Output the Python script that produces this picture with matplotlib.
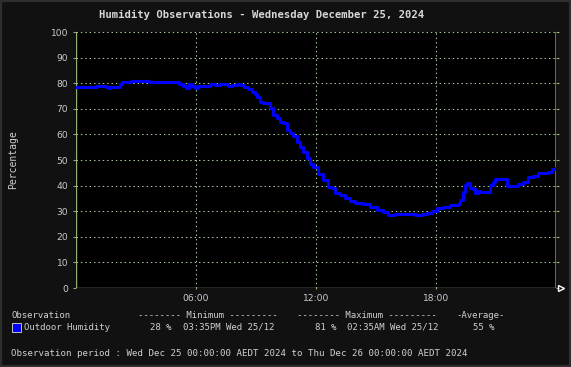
import matplotlib
matplotlib.use('Agg')
import matplotlib.pyplot as plt
from matplotlib.patches import Rectangle

# humidity readings (hour of day, %)
hours = [0.0, 0.7, 1.0, 1.35, 1.5, 1.6, 1.7, 2.1, 2.2, 2.3, 2.75, 3.2, 3.65, 3.85,
         5.0, 5.15, 5.35, 5.5, 5.65, 5.8, 5.95, 6.1, 6.45, 6.7, 6.95, 7.2, 7.6,
         7.8, 8.05, 8.2, 8.4, 8.6, 8.8, 8.95, 9.05, 9.2, 9.35, 9.55, 9.7, 9.85,
         10.05, 10.2, 10.35, 10.55, 10.7, 10.85, 11.05, 11.2, 11.35, 11.55, 11.7,
         11.85, 12.1, 12.35, 12.6, 12.8, 12.95, 13.2, 13.45, 13.7, 13.95, 14.35,
         14.7, 15.05, 15.35, 15.6, 15.95, 16.45, 16.95, 17.3, 17.55, 17.8, 18.05,
         18.35, 18.7, 19.1, 19.2, 19.35, 19.45, 19.55, 19.7, 19.85, 19.95, 20.1,
         20.2, 20.6, 20.7, 20.85, 20.95, 21.35, 21.55, 21.85, 22.1, 22.35, 22.6,
         22.85, 23.1, 23.6, 23.8, 24.0]
humidity = [78.6, 78.6, 79.0, 79.0, 78.6, 78.2, 78.6, 78.6, 79.5, 80.3, 81.0, 81.0, 80.6, 80.3,
            80.3, 79.6, 79.0, 78.3, 79.5, 79.0, 78.0, 79.0, 79.0, 79.6, 79.3, 79.6, 78.8,
            79.3, 79.6, 79.3, 78.6, 77.7, 76.7, 75.8, 74.7, 72.8, 72.1, 72.1, 70.3, 67.6,
            66.5, 65.0, 64.4, 61.7, 60.5, 59.5, 57.1, 55.2, 53.2, 50.6, 48.5,
            47.4, 44.5, 42.2, 39.6, 38.9, 37.0, 36.3, 35.0, 34.1, 33.1, 32.7,
            31.8, 30.5, 29.8, 28.4, 28.9, 28.9, 28.6, 28.9, 29.4, 30.2, 31.1,
            31.8, 32.4, 32.7, 34.4, 37.6, 40.2, 40.9, 38.9, 38.5, 37.0, 38.0,
            37.4, 37.4, 40.2, 41.5, 42.6, 42.6, 39.8, 39.8, 40.6, 41.5, 43.2,
            43.75, 45.0, 45.4, 46.3, 46.7]

xticks = [6, 12, 18]
xlabels = ['06:00', '12:00', '18:00']
yticks = list(range(0, 101, 10))

W, H = 571, 367
fig = plt.figure(figsize=(W / 100, H / 100), dpi=100, facecolor='#111111')
fig.patches.append(Rectangle((0, 0), 1, 1, transform=fig.transFigure, fill=False,
                             edgecolor='#2e2e2e', lw=3))

# plot area in pixels: x 76..556, y 32..288
ax = fig.add_axes([76 / W, 1 - 288 / H, 480 / W, 256 / H])
ax.set_facecolor('black')
ax.set_xlim(0, 24)
ax.set_ylim(0, 100)

grid_col = '#a8c8a0'
dots = (0, (1.4, 2.8))
for y in yticks[1:]:
    ax.axhline(y, color=grid_col, lw=0.75, ls=dots, zorder=1)
for x in xticks:
    ax.axvline(x, color=grid_col, lw=0.75, ls=dots, zorder=1)

ax.step(hours, humidity, where='post', color='#0000ff', lw=2.2, zorder=3)

for s in ax.spines.values():
    s.set_visible(False)
ax.axvline(0, color='#90b070', lw=1, zorder=2)
ax.axvline(24, color='#858530', lw=1.2, zorder=2)
ax.axhline(0, color='#b0c8b0', lw=1, zorder=2)
ax.plot([24.25], [0], marker='>', ms=5, mfc='none', mec='white', mew=1,
        clip_on=False, zorder=4)

ax.set_yticks(yticks)
ax.set_xticks(xticks)
ax.set_xticklabels(xlabels)
ax.tick_params(axis='y', left=True, right=True, length=2.5, width=0.8, color='#90b070',
               labelsize=6.6, labelcolor='#cccccc', pad=3)
ax.tick_params(axis='x', length=2, width=0.8, color='#90b070', direction='inout',
               labelsize=6.6, labelcolor='#cccccc', pad=3)

mono = 'DejaVu Sans Mono'
txt = '#d0d0d0'

def ftext(x, y, s, **kw):
    kw.setdefault('family', mono)
    kw.setdefault('color', txt)
    kw.setdefault('fontsize', 6.5)
    fig.text(x / W, 1 - y / H, s, va='center', **kw)

ftext(99, 15, 'Humidity Observations - Wednesday December 25, 2024',
      fontsize=7.6, fontweight='bold', color='#d8d8d8')
ftext(13, 160, 'Percentage', rotation=90, ha='center', fontsize=7)

# legend block
ftext(11, 315, 'Observation')
ftext(138, 315, '-------- Minimum ---------')
ftext(297, 315, '-------- Maximum ---------')
ftext(456, 315, '-Average-')

fig.patches.append(Rectangle((12 / W, 1 - 332 / H), 9 / W, 9 / H, transform=fig.transFigure,
                             facecolor='#0000ff', edgecolor='#dddddd', lw=0.6))
ftext(24, 327, 'Outdoor Humidity')
ftext(150, 327, '28 %')
ftext(183, 327, '03:35PM Wed 25/12')
ftext(315, 327, '81 %')
ftext(347, 327, '02:35AM Wed 25/12')
ftext(473, 327, '55 %')

ftext(11, 353, 'Observation period : Wed Dec 25 00:00:00 AEDT 2024 to Thu Dec 26 00:00:00 AEDT 2024',
      fontsize=6.55)

fig.savefig('out.png', dpi=100, facecolor=fig.get_facecolor())
